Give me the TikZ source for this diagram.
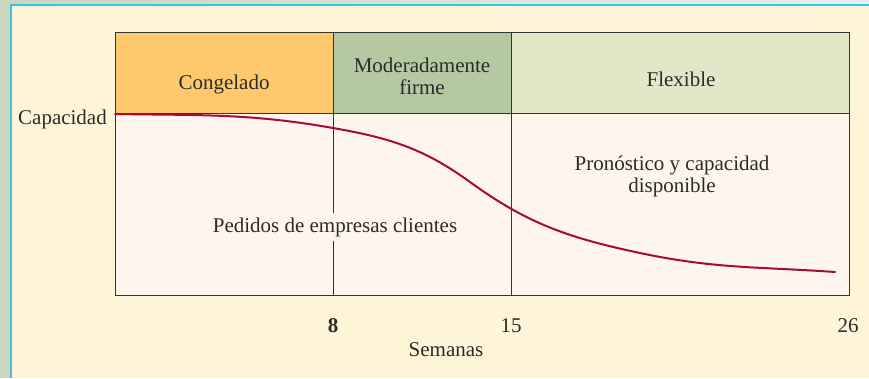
\documentclass[tikz,border=0pt]{standalone}
\usepackage{fontspec}
\setmainfont{Liberation Serif}
\definecolor{bgcream}{HTML}{FEF5D8}
\definecolor{strip}{HTML}{C9D7BD}
\definecolor{stripl}{HTML}{E9EEE8}
\definecolor{frameblue}{HTML}{45BCE2}
\definecolor{frozen}{HTML}{FDC96C}
\definecolor{firm}{HTML}{B4C9A2}
\definecolor{flex}{HTML}{E1E8C8}
\definecolor{body}{HTML}{FEF6EC}
\definecolor{curve}{HTML}{A8093B}
\definecolor{ink}{HTML}{2B2B2B}
\definecolor{rule}{HTML}{333333}
\tikzset{
  lbl/.style={font=\fontsize{21}{22}\selectfont, text=ink, inner sep=1pt, align=center},
  cell/.style={draw=rule, line width=1.3pt, anchor=south west, inner sep=0pt},
}
\begin{document}
\begin{tikzpicture}[x=1pt,y=1pt]
\useasboundingbox (0,0) rectangle (869,378);
% background
\fill[bgcream] (0,0) rectangle (869,378);
\shade[left color=strip, right color=stripl] (0,373) rectangle (869,378);
\fill[strip] (0,0) rectangle (10,378);
\draw[frameblue, line width=2pt] (10.5,0) -- (10.5,372.5) -- (869,372.5);
% body cells
\node[cell, fill=body, minimum width=218pt, minimum height=182pt] (b1) at (115,82) {};
\node[cell, fill=body, minimum width=178pt, minimum height=182pt] (b2) at (333,82) {};
\node[cell, fill=body, minimum width=338pt, minimum height=182pt] (b3) at (511,82) {};
% header cells
\node[cell, fill=frozen, minimum width=218pt, minimum height=81pt] (h1) at (115,264) {};
\node[cell, fill=firm, minimum width=178pt, minimum height=81pt] (h2) at (333,264) {};
\node[cell, fill=flex, minimum width=338pt, minimum height=81pt] (h3) at (511,264) {};
% curve
\coordinate (c0) at (115,264);
\coordinate (c1) at (333,250);
\coordinate (c2) at (470,196);
\coordinate (c3) at (640,125);
\coordinate (c4) at (835,106);
\draw[curve, line width=2pt, line cap=round]
  (c0) to[out=-1, in=170] (c1) to[out=-10, in=144] (c2)
       to[out=-36, in=168] (c3) to[out=-12, in=176] (c4);
% texts
\node[lbl] (t1) at (224,294) {Congelado};
\node[lbl] (t2) at (422,301.5) {Moderadamente\\firme};
\node[lbl] (t3) at (681,299) {Flexible};
\node[lbl, anchor=east] (cap) at (108,259) {Capacidad};
\node[lbl] (t4) at (672,202) {Pronóstico y capacidad\\disponible};
\node[lbl, fill=body, inner xsep=2pt, inner ysep=4.5pt] (t5) at (335,151) {Pedidos de empresas clientes};
\node[lbl] (n8) at (333,52) {\textbf{8}};
\node[lbl] (n15) at (511,52) {15};
\node[lbl] (n26) at (848,52) {26};
\node[lbl] (sem) at (446,28) {Semanas};
\end{tikzpicture}
\end{document}
